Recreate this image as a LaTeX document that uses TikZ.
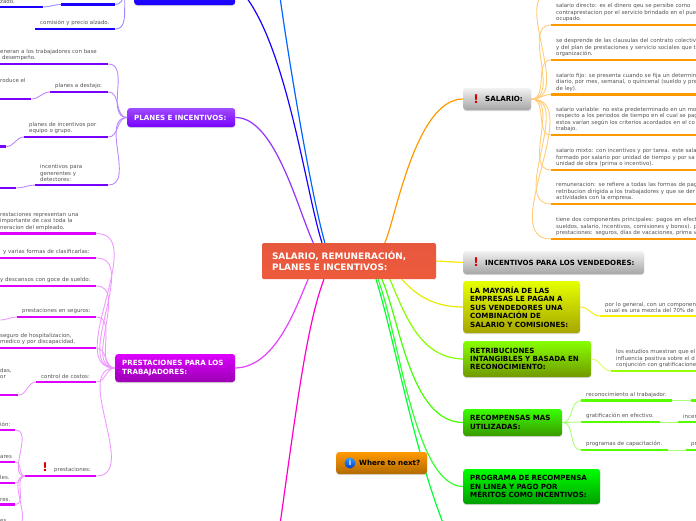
\documentclass[tikz,border=0pt]{standalone}
\usepackage{fontspec}
\setmainfont{DejaVu Sans}
\usetikzlibrary{backgrounds,shadows}
\definecolor{barblue}{HTML}{1A00FF}
\definecolor{stemblue}{HTML}{9A8CFF}
\definecolor{barviolet}{HTML}{7700FF}
\definecolor{stemviolet}{HTML}{BB88FF}
\definecolor{barpurple}{HTML}{DD00FF}
\definecolor{stempurple}{HTML}{EE99FF}
\definecolor{barorange}{HTML}{FF9900}
\definecolor{stemorange}{HTML}{FFCC77}
\definecolor{barlime}{HTML}{55FF00}
\definecolor{stemlime}{HTML}{AAFF77}
\definecolor{trunkpink}{HTML}{FF00CC}
\tikzset{
    branch/.style n args={2}{rounded corners=3pt,top color=#1,bottom color=#2,anchor=west,align=left,
        inner xsep=7pt,inner ysep=0pt,font=\bfseries\fontsize{7.1}{8.4}\selectfont,
        drop shadow={shadow xshift=0pt,shadow yshift=-1pt,opacity=0.3}},
    leaf/.style={anchor=south west,align=left,inner xsep=5pt,inner ysep=3pt,text=black!68,
        font=\fontsize{5.45}{6.5}\selectfont,
        append after command={(\tikzlastnode.south west) edge[draw=#1,line width=2.4pt] (\tikzlastnode.south east)}},
    stem/.style={draw=#1,line width=0.9pt},
    trunk/.style={draw=#1,line width=1.2pt},
    excl/.style={text=red!85!black,font=\bfseries\fontsize{12}{12}\selectfont,inner sep=0pt}
}
\begin{document}
\begin{tikzpicture}[x=1pt,y=-1pt]
    \path[use as bounding box,clip] (0,0) rectangle (696,520);

    % centre
    \node[rounded corners=1.5pt,top color={rgb,255:red,230;green,88;blue,62},bottom color={rgb,255:red,238;green,90;blue,60},
        align=left,text=white,font=\bfseries\fontsize{8.9}{11}\selectfont,minimum width=174pt,minimum height=36pt,
        inner xsep=10pt,inner ysep=0pt,text width=154pt] (root) at (349,261) {SALARIO, REMUNERACIÓN,\\PLANES E INCENTIVOS:};

    % right side
    \node[branch={white!95!black}{black!35},minimum width=68pt,minimum height=22pt,text width=54pt] (salario) at (463,99) {\hspace*{15pt}SALARIO:};
    \node[excl] (salexcl) at (476,99) {!};
    \node[branch={white!95!black}{black!35},minimum width=181pt,minimum height=23pt,text width=167pt] (vendedores) at (463,262.5) {\hspace*{15pt}INCENTIVOS PARA LOS VENDEDORES:};
    \node[excl] (venexcl) at (476,262.5) {!};
    \node[branch={yellow!90!green}{yellow!65!black},minimum width=117pt,minimum height=52pt,text width=103pt] (mayoria) at (463,307) {LA MAYORÍA DE LAS\\EMPRESAS LE PAGAN A\\SUS VENDEDORES UNA\\COMBINACIÓN DE\\SALARIO Y COMISIONES:};
    \node[branch={lime!70!green}{lime!60!black},minimum width=128pt,minimum height=36pt,text width=114pt] (retribuciones) at (463,359) {RETRIBUCIONES\\INTANGIBLES Y BASADA EN\\RECONOCIMIENTO:};
    \node[branch={green!70!lime}{green!50!lime!60!black},minimum width=99pt,minimum height=27pt,text width=85pt] (recompensas) at (463,422.5) {RECOMPENSAS MAS\\UTILIZADAS:};
    \node[branch={green}{green!62!black},minimum width=137pt,minimum height=35pt,text width=123pt] (programa) at (463,486.5) {PROGRAMA DE RECOMPENSA\\EN LINEA Y PAGO POR\\MÉRITOS COMO INCENTIVOS:};

    % where to next
    \node[branch={barorange}{barorange!70!black},minimum width=91pt,minimum height=22pt,text width=77pt] (next) at (336,463) {\hspace*{16pt}Where to next?};
    \node[circle,top color=blue!50!cyan!80!white,bottom color=blue!70!cyan!80!black,text=white,inner sep=0pt,minimum size=11pt,font=\bfseries\fontsize{7}{7}\selectfont] (nexticon) at (350,463) {i};

    % left side
    \node[branch={barblue!80!white}{barblue},minimum width=101pt,minimum height=40pt,text width=87pt] (sueldos) at (134,-15) {};
    \node[branch={barviolet!70!white}{barviolet},minimum width=108pt,minimum height=19pt,text width=94pt,text=white] (planes) at (127,117.5) {PLANES E INCENTIVOS:};
    \node[branch={barpurple}{barpurple!70!black},minimum width=120pt,minimum height=28pt,text width=106pt,text=white] (prestaciones) at (115,368) {PRESTACIONES PARA LOS\\TRABAJADORES:};

    % free ends outside the frame
    \coordinate (offblue) at (275,-40);
    \coordinate (offgreen) at (450,540);
    \coordinate (offpink) at (275,560);
    \coordinate (offorange) at (552,-8);

    % sueldos leaves
    \node[leaf=barblue,text width=70pt] (comision) at (35,29) {comisión y precio alzado.};
    \node[leaf=barblue,text width=44pt] (upper) at (61,4.5) {};
    \node[leaf=barblue,text width=38pt] (alzado) at (-5,7) {zado.};
    \draw[stem=stemblue] (comision.south east) to[out=0,in=180] (sueldos.west);
    \draw[stem=stemblue] (upper.south east) to[out=0,in=180] (sueldos.west);
    \draw[stem=stemblue] (alzado.south east) to[out=0,in=180] (upper.south west);

    % planes leaves
    \node[leaf=barviolet,text width=103pt] (remuneran) at (-5,64) {eneran a los trabajadores con base\\\hspace*{2pt}desempeño.};
    \node[leaf=barviolet,text width=48pt] (destajo) at (50,92) {planes a destajo:};
    \node[leaf=barviolet,text width=26pt] (produce) at (-5,99) {roduce el\\\mbox{}\\\mbox{}};
    \node[leaf=barviolet,text width=74pt] (equipo) at (24,137) {planes de incentivos por\\equipo o grupo.};
    \node[leaf=barviolet,text width=1pt] (equipochild) at (-5,146.5) {};
    \node[leaf=barviolet,text width=63pt] (gerentes) at (35,185) {incentivos para\\generentes y\\detectores:};
    \node[leaf=barviolet,text width=11pt] (gerenteschild) at (-5,188) {};
    \foreach \leafname in {remuneran,destajo,equipo,gerentes}
        \draw[stem=stemviolet] (\leafname.south east) to[out=0,in=180] (planes.west);
    \draw[stem=stemviolet] (produce.south east) to[out=0,in=180] (destajo.south west);
    \draw[stem=stemviolet] (equipochild.south east) to[out=0,in=180] (equipo.south west);
    \draw[stem=stemviolet] (gerenteschild.south east) to[out=0,in=180] (gerentes.south west);

    % prestaciones leaves
    \node[leaf=barpurple,text width=91pt] (casi) at (-5,233.5) {restaciones representan una\\\hspace*{0pt}importante de casi toda la\\neracion del empleado.};
    \node[leaf=barpurple,text width=91pt] (formas) at (-5,258) {\hspace*{3pt}y varias formas de clasificarlas:};
    \node[leaf=barpurple,text width=91pt] (goce) at (-5,286) {y descansos con goce de sueldo:};
    \node[leaf=barpurple,text width=69pt] (seguros) at (17,317) {prestaciones en seguros:};
    \node[leaf=barpurple,text width=2pt] (seguroschild) at (-12,320) {};
    \node[leaf=barpurple,text width=91pt] (hospital) at (-5,348) {seguro de hospitalizacion,\\medico y por discapacidad.};
    \node[leaf=barpurple,text width=50pt] (costos) at (36,382) {control de costos:};
    \node[leaf=barpurple,text width=13pt] (costoschild) at (-5,395) {das,\\or\\\mbox{}\\\mbox{}};
    \node[leaf=barpurple,text width=52pt] (prest) at (34,476) {\hspace*{15pt}prestaciones:};
    \node[excl] (prestexcl) at (45,467) {!};
    \node[leaf=barpurple,text width=10pt] (cion) at (-5,430) {ión:};
    \node[leaf=barpurple,text width=10pt] (ares) at (-5,462) {ares};
    \node[leaf=barpurple,text width=10pt] (les) at (-5,483) {les.};
    \node[leaf=barpurple,text width=10pt] (res) at (-5,504.5) {res.};
    \node[leaf=barpurple,text width=10pt] (eslast) at (-5,526) {es};
    \foreach \leafname in {casi,formas,goce,seguros,hospital,costos,prest}
        \draw[stem=stempurple] (\leafname.south east) to[out=0,in=180] (prestaciones.west);
    \draw[stem=stempurple] (seguroschild.south east) to[out=0,in=180] (seguros.south west);
    \draw[stem=stempurple] (costoschild.south east) to[out=0,in=180] (costos.south west);
    \draw[draw=barpurple,line width=1.2pt] (prest.south west) -- ++(-9,0) coordinate (prestjoin);
    \foreach \leafname in {cion,ares,les,res,eslast}
        \draw[stem=stempurple] (\leafname.south east) to[out=0,in=180] (prestjoin);

    % salario leaves
    \node[leaf=barorange,text width=200pt] (directo) at (551,25) {salario directo: es el dinero qeu se persibe como\\contraprestacion por el servicio brindado en el pue\\ocupado.};
    \node[leaf=barorange,text width=200pt] (clausulas) at (551,60) {se desprende de las clausulas del contrato colectiv\\y del plan de prestaciones y servicio sociales que t\\organización.};
    \node[leaf=barorange,text width=200pt] (fijo) at (551,94.5) {salario fijo: se presenta cuando se fija un determin\\diario, por mes, semanal, o quincenal (sueldo y pre\\de ley).};
    \node[leaf=barorange,text width=200pt] (variable) at (551,135) {salario variable: no esta predeterminado en un mo\\respecto a los periodos de tiempo en el cual se pag\\estos varían según los criterios acordados en el co\\trabajo.};
    \node[leaf=barorange,text width=200pt] (mixto) at (551,170) {salario mixto: con incentivos y por tarea. este sala\\formado por salario por unidad de tiempo y por sa\\unidad de obra (prima o incentivo).};
    \node[leaf=barorange,text width=200pt] (remuneracion) at (551,204) {remuneracion: se refiere a todas las formas de pag\\retribucion dirigida a los trabajadores y que se der\\actividades con la empresa.};
    \node[leaf=barorange,text width=200pt] (componentes) at (551,239) {tiene dos componentes principales: pagos en efect\\sueldos, salario, incentivos, comisiones y bonos). p\\prestaciones: seguros, días de vacaciones, prima v};
    \foreach \leafname in {directo,clausulas,fijo,variable,mixto,remuneracion,componentes}
        \draw[stem=stemorange] (salario.east) to[out=0,in=180] (\leafname.south west);
    \draw[stem=stemorange] (salario.east) to[out=0,in=180] (offorange);

    % ventas leaves
    \node[leaf=yellow!90!lime,text width=200pt] (componente) at (600,316) {por lo general, con un componen\\usual es una mezcla del 70\% de};
    \draw[stem=yellow!70!lime] (mayoria.east) to[out=0,in=180] (componente.south west);
    \node[leaf=lime!80!green,text width=200pt] (estudios) at (611,371) {los estudios muestran que el\\influencia positiva sobre el d\\conjunción con gratificacione};
    \draw[stem=lime!60!white] (retribuciones.east) to[out=0,in=180] (estudios.south west);

    % recompensas leaves
    \node[leaf=barlime,text width=81pt] (trabajador) at (581,400.5) {reconocimiento al trabajador.};
    \node[leaf=barlime,text width=30pt] (trabajadornext) at (691,400.5) {};
    \node[leaf=barlime,text width=69pt] (efectivo) at (581,422) {gratificación en efectivo.};
    \node[leaf=barlime,text width=30pt] (efectivonext) at (678,422) {incen};
    \node[leaf=barlime,text width=77pt] (capacita) at (581,450) {programas de capacitación.};
    \node[leaf=barlime,text width=30pt] (capacitanext) at (686,450) {pr};
    \foreach \leafname in {trabajador,efectivo,capacita}
        \draw[stem=stemlime] (recompensas.east) to[out=0,in=180] (\leafname.south west);
    \draw[stem=stemlime] (trabajador.south east) -- (trabajadornext.south west);
    \draw[stem=stemlime] (efectivo.south east) -- (efectivonext.south west);
    \draw[stem=stemlime] (capacita.south east) -- (capacitanext.south west);

    % trunks from the centre
    \begin{scope}[on background layer]
        \draw[trunk=barorange] (root.27.9) .. controls (395,222) and (415,99) .. (salario.west);
        \draw[trunk=barviolet!80!white] (root.153.4) .. controls (298,210) and (275,117) .. (planes.east);
        \draw[trunk=barblue] (root.146.3) .. controls (305,190) and (285,30) .. (sueldos.east);
        \draw[trunk=blue!60!cyan] (root.143.1) .. controls (310,190) and (285,40) .. (offblue);
        \draw[trunk=barpurple!75!white] (root.204.8) .. controls (295,310) and (275,367) .. (prestaciones.east);
        \draw[trunk=trunkpink] (root.216.9) .. controls (305,330) and (295,420) .. (offpink);
        \draw[trunk=yellow!90!orange] (root.east) -- (vendedores.west);
        \draw[trunk=yellow!90!green] (root.341.6) .. controls (420,300) and (440,307) .. (mayoria.west);
        \draw[trunk=lime!70!green] (root.336.3) .. controls (405,315) and (420,358) .. (retribuciones.west);
        \draw[trunk=green!65!lime] (root.331.4) .. controls (400,320) and (410,422) .. (recompensas.west);
        \draw[trunk=green!80!white] (root.328.2) .. controls (400,340) and (415,486) .. (programa.west);
        \draw[trunk=green!80!cyan] (root.326.3) .. controls (395,340) and (415,460) .. (offgreen);
    \end{scope}
\end{tikzpicture}
\end{document}
